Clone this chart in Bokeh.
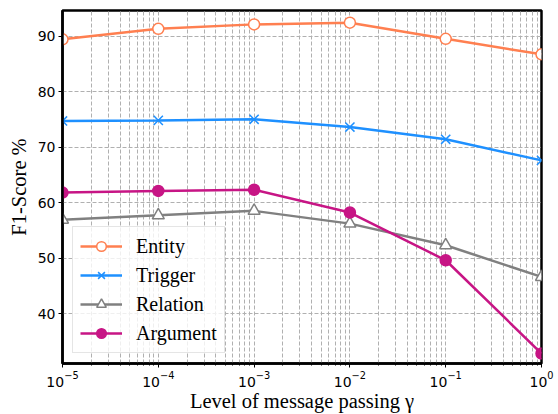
from bokeh.plotting import figure
from bokeh.models import Range1d, FixedTicker, Legend, LegendItem
from bokeh.embed import file_html
from bokeh.resources import INLINE

gamma = [1e-5, 1e-4, 1e-3, 1e-2, 1e-1, 1.0]
entity = [89.4, 91.3, 92.1, 92.4, 89.5, 86.7]
trigger = [74.7, 74.8, 75.0, 73.6, 71.4, 67.6]
relation = [56.9, 57.7, 58.5, 56.2, 52.3, 46.6]
argument = [61.8, 62.1, 62.3, 58.2, 49.6, 32.8]

x_major = [1e-5, 1e-4, 1e-3, 1e-2, 1e-1, 1.0]
x_minor = [m * d for d in [1e-5, 1e-4, 1e-3, 1e-2, 1e-1] for m in range(2, 10)]
y_major = [40, 50, 60, 70, 80, 90]

series = [
    ("Entity", entity, "#FF7F50", "circle", "white", 11),
    ("Trigger", trigger, "#1E90FF", "x", "#1E90FF", 13),
    ("Relation", relation, "#808080", "triangle", "white", 12),
    ("Argument", argument, "#C71585", "circle", "#C71585", 11),
]

p = figure(width=558, height=414, x_axis_type="log",
           x_range=Range1d(1e-5, 1.0), y_range=Range1d(31, 94.6),
           output_backend="svg", toolbar_location=None,
           min_border_left=62, min_border_right=17, min_border_top=10, min_border_bottom=47)

p.background_fill_color = "white"
p.border_fill_color = "white"
p.outline_line_color = "black"
p.outline_line_width = 2.5

p.xaxis.ticker = FixedTicker(ticks=x_major, minor_ticks=x_minor)
p.yaxis.ticker = FixedTicker(ticks=y_major)

for ax in [p.xaxis[0], p.yaxis[0]]:
    ax.axis_line_color = "black"
    ax.axis_line_width = 2.5
    ax.major_tick_line_color = "black"
    ax.major_tick_out = 4
    ax.major_tick_in = 0
    ax.major_tick_line_width = 1
    ax.minor_tick_in = 0
    ax.major_label_text_font = "DejaVu Sans"
    ax.major_label_text_font_size = "14px"
    ax.major_label_text_color = "black"
    ax.axis_label_text_font = "Liberation Serif"
    ax.axis_label_text_font_size = "20.5px"
    ax.axis_label_text_font_style = "normal"
    ax.axis_label_text_color = "black"
    ax.axis_label_standoff = 2
    ax.major_label_standoff = 3

p.xaxis.minor_tick_out = 2
p.xaxis.minor_tick_line_color = "black"
p.yaxis.minor_tick_out = 0
p.yaxis.minor_tick_line_color = None
p.xaxis.axis_label = "Level of message passing γ"
p.yaxis.axis_label = "F1-Score %"
p.xaxis.axis_label_standoff = 0
p.yaxis.axis_label_standoff = 5

p.xgrid.grid_line_color = "#b0b0b0"
p.xgrid.grid_line_dash = "4 2"
p.xgrid.grid_line_width = 1
p.xgrid.minor_grid_line_color = "#b0b0b0"
p.xgrid.minor_grid_line_dash = "4 2"
p.xgrid.minor_grid_line_width = 1
p.ygrid.grid_line_color = "#b0b0b0"
p.ygrid.grid_line_dash = "4 2"
p.ygrid.grid_line_width = 1

items = []
for name, vals, color, marker, fill, msize in series:
    lr = p.line(gamma, vals, line_color=color, line_width=2.5)
    sr = p.scatter(gamma, vals, marker=marker, size=msize, line_color=color,
                   fill_color=fill, line_width=1.5)
    items.append(LegendItem(label=name, renderers=[lr, sr]))

legend = Legend(items=items, location="bottom_left", margin=10,
                label_text_font="Liberation Serif", label_text_font_size="20px",
                label_text_color="black",
                glyph_width=42, glyph_height=24, label_height=24, spacing=5,
                padding=7, label_standoff=14,
                background_fill_color="white", background_fill_alpha=0.8,
                border_line_color="#cccccc", border_line_width=1)
p.add_layout(legend, "center")

open("out.html", "w").write(file_html(p, INLINE))
